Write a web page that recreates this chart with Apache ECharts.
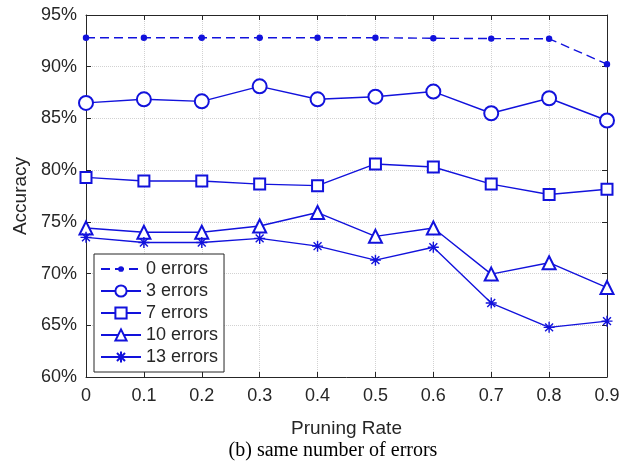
<!DOCTYPE html>
<html>
<head>
<meta charset="utf-8">
<script src="https://cdn.jsdelivr.net/npm/echarts@6/dist/echarts.min.js"></script>
<style>
  html, body { margin: 0; padding: 0; background: #fff; }
  #chart { width: 636px; height: 465px; }
</style>
</head>
<body>
<div id="chart"></div>
<script>
// Pruning rates on the x axis
const rates = [0, 0.1, 0.2, 0.3, 0.4, 0.5, 0.6, 0.7, 0.8, 0.9];

// Accuracy (%) for each number of injected errors
const errors0  = [92.8, 92.8, 92.8, 92.8, 92.8, 92.8, 92.75, 92.72, 92.7, 90.25];
const errors3  = [86.5, 86.85, 86.65, 88.1, 86.85, 87.1, 87.6, 85.5, 86.95, 84.8];
const errors7  = [79.3, 78.95, 78.95, 78.65, 78.5, 80.6, 80.3, 78.65, 77.65, 78.15];
const errors10 = [74.4, 74.0, 74.0, 74.6, 75.9, 73.6, 74.4, 69.95, 71.05, 68.65];
const errors13 = [73.5, 73.0, 73.0, 73.4, 72.65, 71.3, 72.55, 67.15, 64.8, 65.4];

const seriesNames = ['0 errors', '3 errors', '7 errors', '10 errors', '13 errors'];

const blue = '#1212dc';
const ink = '#262626';
// eight-armed star marker
const asterisk = 'path://M0,-5L0,5M-5,0L5,0M-3.6,-3.6L3.6,3.6M-3.6,3.6L3.6,-3.6';
// small dot padded by two move-to points so it stays small inside its box
const smallDot = 'path://M-3,-3M3,3M-1,0A1,1,0,1,0,1,0A1,1,0,1,0,-1,0Z';

const toPoints = vals => rates.map((r, i) => [r, vals[i]]);

function makeSeries(name, vals, symbol, size, dashed) {
  return {
    name: name,
    type: 'line',
    data: toPoints(vals),
    symbol: symbol,
    symbolSize: size,
    showSymbol: true,
    animation: false,
    lineStyle: { color: blue, width: 1.4, type: dashed ? [9, 5] : 'solid' },
    itemStyle: { color: blue, borderColor: blue, borderWidth: 1.4 },
    emphasis: { disabled: true }
  };
}

const hiddenAxisLabel = { show: false };
const inTick = { show: true, inside: true, length: 5, lineStyle: { color: ink } };
const frameLine = { show: true, onZero: false, lineStyle: { color: ink, width: 1 } };
const gridLine = { show: true, lineStyle: { color: '#d2d2d2', type: 'dotted', width: 1 } };

const chart = echarts.init(document.getElementById('chart'), null, { renderer: 'canvas' });
chart.setOption({
  backgroundColor: '#ffffff',
  animation: false,
  textStyle: { fontFamily: 'Liberation Sans, Arial, sans-serif' },
  grid: { left: 86, right: 29, top: 15, bottom: 88, containLabel: false },
  xAxis: [
    {
      type: 'value', min: 0, max: 0.9, interval: 0.1,
      position: 'bottom',
      name: 'Pruning Rate', nameLocation: 'middle', nameGap: 42,
      nameTextStyle: { color: ink, fontSize: 19 },
      axisLine: frameLine,
      axisTick: inTick,
      axisLabel: {
        color: ink, fontSize: 18, margin: 10,
        formatter: v => (v === 0 ? '0' : v.toFixed(1))
      },
      splitLine: gridLine
    },
    {
      type: 'value', min: 0, max: 0.9, interval: 0.1,
      position: 'top',
      axisLine: frameLine,
      axisTick: inTick,
      axisLabel: hiddenAxisLabel,
      splitLine: { show: false }
    }
  ],
  yAxis: [
    {
      type: 'value', min: 60, max: 95, interval: 5,
      position: 'left',
      name: 'Accuracy', nameLocation: 'middle', nameGap: 53,
      nameTextStyle: { color: ink, fontSize: 19 },
      axisLine: frameLine,
      axisTick: inTick,
      axisLabel: { color: ink, fontSize: 18, margin: 9, formatter: v => v + '%' },
      splitLine: gridLine
    },
    {
      type: 'value', min: 60, max: 95, interval: 5,
      position: 'right',
      axisLine: frameLine,
      axisTick: inTick,
      axisLabel: hiddenAxisLabel,
      splitLine: { show: false }
    }
  ],
  legend: {
    orient: 'vertical',
    left: 94, top: 254,
    itemWidth: 40, itemHeight: 14, itemGap: 4,
    padding: [6, 6, 6, 6],
    backgroundColor: '#ffffff',
    borderColor: ink, borderWidth: 1, borderRadius: 0,
    textStyle: { color: ink, fontSize: 18 },
    selectedMode: false,
    data: seriesNames
  },
  graphic: [
    {
      type: 'text',
      style: {
        text: '(b) same number of errors',
        x: 333, y: 451,
        align: 'center', verticalAlign: 'middle',
        font: '20px "Liberation Serif", "Times New Roman", serif',
        fill: '#000000'
      }
    }
  ],
  series: [
    makeSeries(seriesNames[0], errors0, smallDot, 15, true),
    makeSeries(seriesNames[1], errors3, 'emptyCircle', 14, false),
    makeSeries(seriesNames[2], errors7, 'emptyRect', 11, false),
    makeSeries(seriesNames[3], errors10, 'emptyTriangle', 13, false),
    makeSeries(seriesNames[4], errors13, asterisk, 11, false)
  ]
});
</script>
</body>
</html>
